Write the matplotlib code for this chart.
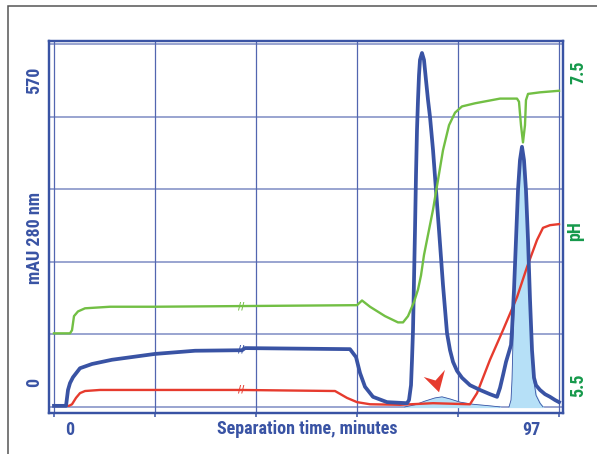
import numpy as np
import matplotlib
matplotlib.use("Agg")
import matplotlib.pyplot as plt
from matplotlib.path import Path
from matplotlib.patches import Rectangle

plt.rcParams['font.family'] = ['Roboto Condensed', 'Open Sans Condensed',
                               'Liberation Sans Narrow', 'DejaVu Sans']
plt.rcParams['font.stretch'] = 'condensed'
plt.rcParams['font.weight'] = 'bold'
plt.rcParams['axes.labelweight'] = 'bold'

# UV trace, mAU 280 nm (time in minutes)
blue_t = [-3.37, -0.84, -0.42, 0, 0.63, 2.10, 4.63, 8.84, 17.88, 26.30, 36.19, 36.82,
          58.91, 60.18, 61.02, 62.07, 63.75, 66.70, 70.91, 71.33, 71.75, 71.96, 72.17,
          72.38, 72.59, 72.80, 73.01, 73.22, 73.43, 73.64, 74.06, 74.48, 74.90, 75.33,
          75.75, 76.38, 77.01, 77.64, 78.48, 79.33, 79.96, 80.59, 81.43, 82.48, 84.16,
          86.27, 88.37, 89.85, 90.48, 91.11, 91.74, 92.37, 92.79, 93.00, 93.42, 93.84,
          94.26, 94.68, 95.10, 95.52, 95.94, 96.37, 96.79, 97.21, 97.63, 98.05, 98.89,
          99.95, 101.00, 102.05, 102.89]
blue_mau = [-45, -45, -15, -2, 9, 26, 34, 42, 53, 59, 60, 64,
            62, 47, 17, -9, -28, -38, -40, -34, -6, 42, 98,
            193, 287, 391, 476, 532, 579, 608, 621, 608, 570, 532,
            500, 438, 362, 287, 183, 92, 60, 38, 21, 8, -6,
            -15, -23, -28, -11, 13, 38, 57, 70, 98, 174, 268,
            362, 419, 444, 419, 362, 268, 155, 60, 8, -6, -15,
            -23, -28, -34, -38]

# conductivity-like trace (no own scale, drawn on the mAU axis)
red_t = [-3.37, -0.21, 0.42, 1.26, 2.10, 3.16, 6.31, 35.77, 55.76, 58.28, 60.39, 63.12,
         69.43, 76.38, 84.16, 85.64, 88.37, 91.11, 94.05, 96.16, 98.26, 99.52, 101.00, 102.89]
red_val = [-45, -45, -42, -30, -21, -17, -15, -15, -17, -30, -38, -42,
           -43, -40, -42, -21, 42, 98, 160, 217, 268, 291, 296, 298]

# pH trace
green_t = [-3.37, 0, 0.42, 0.84, 1.68, 3.16, 8.42, 17.88, 60.39, 61.44, 63.12, 66.28,
           69.01, 70.07, 71.12, 72.38, 73.22, 73.85, 74.48, 75.33, 76.38, 77.43, 78.48,
           79.75, 81.01, 82.48, 85.22, 90.48, 94.05, 94.47, 94.89, 95.31, 95.73, 95.94,
           96.37, 98.89, 102.89]
green_ph = [5.83, 5.83, 5.85, 5.94, 5.97, 5.99, 6.00, 6.00, 6.01, 6.04, 6.00, 5.94,
            5.90, 5.90, 5.94, 6.03, 6.11, 6.20, 6.33, 6.46, 6.62, 6.81, 7.00,
            7.16, 7.24, 7.28, 7.30, 7.33, 7.33, 7.31, 7.16, 7.05, 7.16, 7.32,
            7.36, 7.37, 7.38]

# collected fraction (shaded) and small hump
frac_t = [92.37, 92.79, 93.00, 93.21, 93.63, 94.05, 94.47, 95.10, 95.73, 96.16, 96.58,
          97.00, 97.42, 98.05, 98.89, 99.52]
frac_mau = [-47, -34, 4, 79, 193, 306, 400, 438, 400, 306, 193, 79, 13, -25, -40, -47]
hump_t = [70.49, 72.59, 74.69, 76.80, 78.27, 79.96, 82.06, 84.80, 88.37, 90.48]
hump_mau = [-47, -43, -36, -30, -28, -32, -38, -42, -45, -47]
fill_base = -47

break_t = 36.0
arrow_t, arrow_mau = 76.8, 4

x_labels = [0, 97]
mau_labels = [0, 570]
ph_labels = [5.5, 7.5]

BLUE = '#3953a4'
GREEN = '#72bf44'
RED = '#e63b2e'
TXT_GREEN = '#16994b'
GRID = '#5266b0'

fig = plt.figure(figsize=(5.97, 4.54), dpi=100)
ax = fig.add_axes([49/597, 41/454, 514/597, 372/454])
ax.set_xlim(-4.42, 103.73)
ax.set_ylim(-58.5, 643.6)

xgrid = np.linspace(-3.37, 102.89, 6)
ygrid = np.linspace(-47.2, 638.0, 6)
for gx in xgrid:
    ax.axvline(gx, color=GRID, lw=0.9, zorder=1)
for gy in ygrid:
    ax.axhline(gy, color=GRID, lw=1.1, alpha=0.75, zorder=1)

ax.fill_between(hump_t, hump_mau, fill_base, color='#b6e0f7', zorder=2)
ax.plot(hump_t, hump_mau, color=BLUE, lw=0.6, zorder=2)
ax.fill_between(frac_t, frac_mau, fill_base, color='#b6e0f7', zorder=2)
ax.plot(frac_t, frac_mau, color=BLUE, lw=0.6, zorder=2)

ax.plot(red_t, red_val, color=RED, lw=1.7, zorder=3, solid_joinstyle='round')
ax.plot(blue_t, blue_mau, color=BLUE, lw=2.7, zorder=4, solid_joinstyle='round')

ax.text(break_t, 62, '//', color=BLUE, fontsize=7, ha='center', va='center', zorder=5)
ax.text(break_t, -15, '//', color=RED, fontsize=7, ha='center', va='center', zorder=5)

# red arrowhead pointing to the small hump
arrow_path = Path([(-10, 3), (3, -10), (8, 9), (0, 0), (-10, 3)],
                  [Path.MOVETO, Path.LINETO, Path.LINETO, Path.LINETO, Path.CLOSEPOLY])
ax.plot([arrow_t], [arrow_mau], marker=arrow_path, markersize=17, color=RED,
        markeredgewidth=0, linestyle='none', zorder=6)

for s in ax.spines.values():
    s.set_color(BLUE)
    s.set_linewidth(1.6)

ax.set_xticks(xgrid)
ax.set_xticklabels([])
ax.set_xticks(x_labels, minor=True)
ax.set_xticklabels([str(v) for v in x_labels], minor=True)
ax.tick_params(axis='x', which='major', direction='out', length=3, width=1.1, color=BLUE)
ax.tick_params(axis='x', which='minor', length=0, pad=5.5, labelsize=13, labelcolor=BLUE)

ax.set_yticks([])
ax.set_yticks(mau_labels, minor=True)
ax.set_yticklabels([str(v) for v in mau_labels], minor=True, rotation=90, va='center')
ax.tick_params(axis='y', which='minor', length=0, pad=4.5, labelsize=13, labelcolor=BLUE)

ax.set_xlabel('Separation time, minutes', fontsize=13, color=BLUE)
ax.xaxis.set_label_coords(0.503, -0.019)
ax.set_ylabel('mAU 280 nm', fontsize=13, color=BLUE)
ax.yaxis.set_label_coords(-0.0097, 0.470)

ax2 = ax.twinx()
ax2.set_ylim(5.321, 7.698)
ax2.plot(green_t, green_ph, color=GREEN, lw=1.7, zorder=3, solid_joinstyle='round')
ax2.text(break_t, 6.00, '//', color=GREEN, fontsize=7, ha='center', va='center')
ax2.set_yticks([])
ax2.set_yticks(ph_labels, minor=True)
ax2.set_yticklabels([str(v) for v in ph_labels], minor=True, rotation=90, va='center')
ax2.tick_params(axis='y', which='minor', length=0, pad=4.5, labelsize=13, labelcolor=TXT_GREEN)
ax2.set_ylabel('pH', fontsize=13, color=TXT_GREEN)
ax2.yaxis.set_label_coords(1.006, 0.489)
for s in ax2.spines.values():
    s.set_color(BLUE)
    s.set_linewidth(1.6)

fig.add_artist(Rectangle((8/597, -0.1), 1.2, (454 - 5.5)/454 + 0.1,
                         transform=fig.transFigure, fill=False,
                         edgecolor='#555555', lw=1.1))

fig.savefig('out.png', dpi=100)
